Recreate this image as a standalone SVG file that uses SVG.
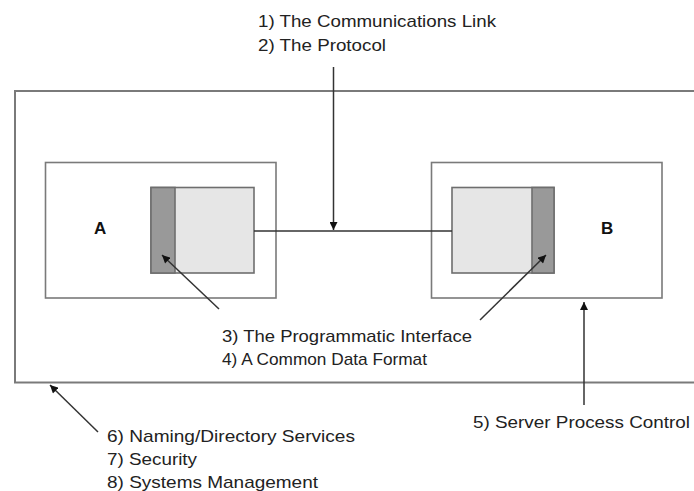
<svg xmlns="http://www.w3.org/2000/svg" width="694" height="491" viewBox="0 0 694 491">
  <defs>
    <marker id="arrow" viewBox="0 0 10 10" refX="10" refY="5" markerWidth="9" markerHeight="8" markerUnits="userSpaceOnUse" orient="auto">
      <path d="M0,0 L10,5 L0,10 Z" fill="#111"/>
    </marker>
  </defs>
  <style>
    .frame { fill: none; stroke: #7a7a7a; stroke-width: 2; }
    .box { fill: #ffffff; stroke: #7a7a7a; stroke-width: 1.6; }
    .iface { fill: #e6e6e6; stroke: #6e6e6e; stroke-width: 1.6; }
    .strip { fill: #999999; stroke: #6e6e6e; stroke-width: 1.6; }
    .conn { stroke: #333; stroke-width: 1.6; fill: none; }
    .ptr { stroke: #333; stroke-width: 1.5; fill: none; marker-end: url(#arrow); }
    .lbl { font-family: "Liberation Sans", Arial, sans-serif; font-size: 17px; fill: #222; }
    .name { font-family: "Liberation Sans", Arial, sans-serif; font-size: 17px; font-weight: bold; fill: #111; }
  </style>
  <rect width="694" height="491" fill="#ffffff"/>

  <!-- enclosing environment -->
  <g id="environment">
    <rect class="frame" x="15" y="91" width="700" height="291.5"/>
  </g>

  <!-- client A -->
  <g id="nodeA">
    <rect class="box" x="45.5" y="162.5" width="230.5" height="135.5"/>
    <rect class="iface" x="151" y="187.5" width="103" height="85.5"/>
    <rect class="strip" x="151" y="187.5" width="24" height="85.5"/>
    <text class="name" x="94" y="234">A</text>
  </g>

  <!-- server B -->
  <g id="nodeB">
    <rect class="box" x="431.5" y="162.5" width="230.5" height="135.5"/>
    <rect class="iface" x="452" y="187.5" width="102" height="85.5"/>
    <rect class="strip" x="532" y="187.5" width="22" height="85.5"/>
    <text class="name" x="601" y="234">B</text>
  </g>

  <!-- connectors -->
  <g id="connectors">
    <line class="conn" x1="254" y1="231" x2="452" y2="231"/>
    <line class="ptr" x1="333.5" y1="67" x2="333.5" y2="230"/>
    <line class="ptr" x1="219" y1="309" x2="162" y2="255"/>
    <line class="ptr" x1="480" y1="320" x2="546" y2="255"/>
    <line class="ptr" x1="584" y1="405" x2="584" y2="302"/>
    <line class="ptr" x1="98" y1="432" x2="50" y2="385"/>
  </g>

  <!-- labels -->
  <g id="labels">
    <text class="lbl" x="258" y="27" textLength="238" lengthAdjust="spacingAndGlyphs">1) The Communications Link</text>
    <text class="lbl" x="258" y="51" textLength="128" lengthAdjust="spacingAndGlyphs">2) The Protocol</text>
    <text class="lbl" x="222" y="342" textLength="250" lengthAdjust="spacingAndGlyphs">3) The Programmatic Interface</text>
    <text class="lbl" x="222" y="365" textLength="205" lengthAdjust="spacingAndGlyphs">4) A Common Data Format</text>
    <text class="lbl" x="473" y="428" textLength="217" lengthAdjust="spacingAndGlyphs">5) Server Process Control</text>
    <text class="lbl" x="107" y="442" textLength="248" lengthAdjust="spacingAndGlyphs">6) Naming/Directory Services</text>
    <text class="lbl" x="107" y="465" textLength="90" lengthAdjust="spacingAndGlyphs">7) Security</text>
    <text class="lbl" x="107" y="488" textLength="211" lengthAdjust="spacingAndGlyphs">8) Systems Management</text>
  </g>
</svg>
